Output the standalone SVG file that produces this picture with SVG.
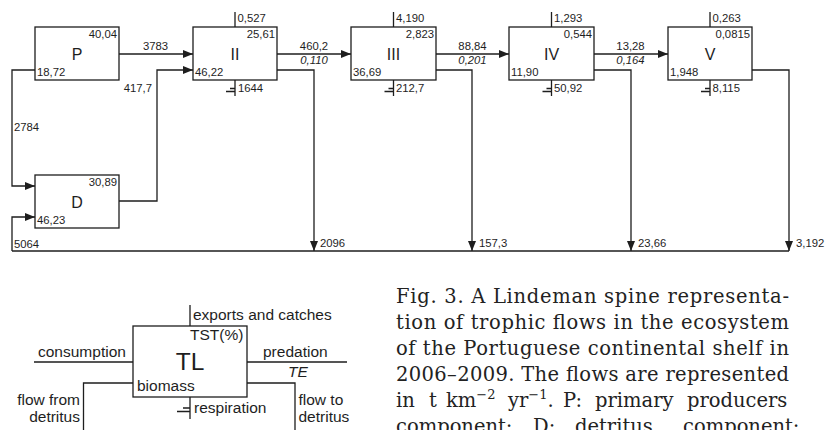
<svg xmlns="http://www.w3.org/2000/svg" width="839" height="430" viewBox="0 0 839 430">
<style>
  .ln{fill:none;stroke:#1e1e1e;stroke-width:1.3}
  .bx{fill:#fff;stroke:#1e1e1e;stroke-width:1.3}
  .n{font-family:"Liberation Sans",Arial,sans-serif;font-size:11.3px;fill:#1e1e1e}
  .it{font-style:italic}
  .c{font-family:"Liberation Sans",Arial,sans-serif;font-size:16px;fill:#1e1e1e;text-anchor:middle}
  .e{text-anchor:end}
  .m{text-anchor:middle}
  .lg{font-family:"Liberation Sans",Arial,sans-serif;font-size:15.5px;fill:#1e1e1e}
  .cap{font-family:"DejaVu Serif","Liberation Serif",serif;font-size:19.5px;fill:#222}
</style>
<defs>
  <marker id="ah" markerUnits="userSpaceOnUse" markerWidth="11" markerHeight="9" refX="10" refY="4" orient="auto">
    <path d="M0,0 L10,4 L0,8 Z" fill="#1e1e1e"/>
  </marker>
</defs>

<g id="connectors">
  <path class="ln" d="M119,54 H193" marker-end="url(#ah)"/>
  <path class="ln" d="M277,54 H351" marker-end="url(#ah)"/>
  <path class="ln" d="M436,54 H509" marker-end="url(#ah)"/>
  <path class="ln" d="M594,54 H668" marker-end="url(#ah)"/>
  <path class="ln" d="M35,70 H12 V186 H35" marker-end="url(#ah)"/>
  <path class="ln" d="M119,201 H157 V70 H193" marker-end="url(#ah)"/>
  <path class="ln" d="M12,251 H789"/>
  <path class="ln" d="M12,251 V217 H35" marker-end="url(#ah)"/>
  <path class="ln" d="M277,70 H314 V251" marker-end="url(#ah)"/>
  <path class="ln" d="M436,70 H472 V251" marker-end="url(#ah)"/>
  <path class="ln" d="M594,70 H631 V251" marker-end="url(#ah)"/>
  <path class="ln" d="M752,70 H789 V251" marker-end="url(#ah)"/>
  <!-- exports -->
  <path class="ln" d="M235,12 V27 M393.5,12 V27 M551.5,12 V27 M710,12 V27"/>
  <!-- respiration -->
  <path class="ln" d="M235,80 V96 M230,88.5 H235 M226,91.5 H235"/>
  <path class="ln" d="M393.5,80 V96 M388.5,88.5 H393.5 M384.5,91.5 H393.5"/>
  <path class="ln" d="M551.5,80 V96 M546.5,88.5 H551.5 M542.5,91.5 H551.5"/>
  <path class="ln" d="M710,80 V96 M705,88.5 H710 M701,91.5 H710"/>
  <text class="n m" x="155.5" y="50">3783</text>
  <text class="n e" x="152" y="92">417,7</text>
  <text class="n" x="14" y="131">2784</text>
  <text class="n" x="14" y="248">5064</text>
  <text class="n m" x="314" y="50">460,2</text>
  <text class="n m it" x="314" y="63.5">0,110</text>
  <text class="n m" x="472.5" y="50">88,84</text>
  <text class="n m it" x="472.5" y="63.5">0,201</text>
  <text class="n m" x="630.5" y="50">13,28</text>
  <text class="n m it" x="630.5" y="63.5">0,164</text>
  <text class="n" x="320" y="247">2096</text>
  <text class="n" x="479" y="247">157,3</text>
  <text class="n" x="638" y="247">23,66</text>
  <text class="n" x="796" y="247">3,192</text>
</g>

<g id="P">
  <rect class="bx" x="35" y="27" width="84" height="53"/>
  <text class="n e" x="117" y="38">40,04</text>
  <text class="c" x="77" y="60">P</text>
  <text class="n" x="37" y="76">18,72</text>
</g>
<g id="D">
  <rect class="bx" x="35" y="175" width="84" height="53"/>
  <text class="n e" x="117" y="186">30,89</text>
  <text class="c" x="77" y="208">D</text>
  <text class="n" x="37" y="224">46,23</text>
</g>
<g id="II">
  <rect class="bx" x="193" y="27" width="84" height="53"/>
  <text class="n" x="237.5" y="22">0,527</text>
  <text class="n e" x="275" y="38">25,61</text>
  <text class="c" x="235" y="60">II</text>
  <text class="n" x="195" y="76">46,22</text>
  <text class="n" x="238" y="92">1644</text>
</g>
<g id="III">
  <rect class="bx" x="351" y="27" width="85" height="53"/>
  <text class="n" x="396" y="22">4,190</text>
  <text class="n e" x="434" y="38">2,823</text>
  <text class="c" x="393.5" y="60">III</text>
  <text class="n" x="353" y="76">36,69</text>
  <text class="n" x="396" y="92">212,7</text>
</g>
<g id="IV">
  <rect class="bx" x="509" y="27" width="85" height="53"/>
  <text class="n" x="554" y="22">1,293</text>
  <text class="n e" x="592" y="38">0,544</text>
  <text class="c" x="551.5" y="60">IV</text>
  <text class="n" x="511" y="76">11,90</text>
  <text class="n" x="554" y="92">50,92</text>
</g>
<g id="V">
  <rect class="bx" x="668" y="27" width="84" height="53"/>
  <text class="n" x="712.5" y="22">0,263</text>
  <text class="n e" x="750" y="38">0,0815</text>
  <text class="c" x="710" y="60">V</text>
  <text class="n" x="670" y="76">1,948</text>
  <text class="n" x="712.5" y="92">8,115</text>
</g>

<g id="legend">
  <path class="ln" d="M190,305 V326 M34,362 H133 M247,362 H347 M133,383 H83.5 V430 M247,383 H295 V430 M190,397 V419 M183,408 H190 M177,411.5 H190"/>
  <rect class="bx" x="133" y="326" width="114" height="71"/>
  <text class="lg" x="193" y="320">exports and catches</text>
  <text class="lg" x="190" y="340">TST(%)</text>
  <text class="lg" x="38" y="356.5">consumption</text>
  <text class="c" x="190" y="370" style="font-size:24.5px">TL</text>
  <text class="lg" x="263" y="356.5">predation</text>
  <text class="lg it" x="288" y="377">TE</text>
  <text class="lg" x="137" y="390.5">biomass</text>
  <text class="lg" x="194" y="413">respiration</text>
  <text class="lg e" x="80" y="405">flow from</text>
  <text class="lg e" x="80" y="421.5">detritus</text>
  <text class="lg" x="298.5" y="405">flow to</text>
  <text class="lg" x="298.5" y="421.5">detritus</text>
</g>

<g id="caption">
  <text class="cap" x="396" y="303" textLength="393" lengthAdjust="spacing">Fig. 3. A Lindeman spine representa-</text>
  <text class="cap" x="396" y="329" textLength="393" lengthAdjust="spacing">tion of trophic flows in the ecosystem</text>
  <text class="cap" x="396" y="355" textLength="393" lengthAdjust="spacing">of the Portuguese continental shelf in</text>
  <text class="cap" x="396" y="381" textLength="393" lengthAdjust="spacing">2006–2009. The flows are represented</text>
  <text class="cap" y="407"><tspan x="396">in</tspan><tspan x="429">t</tspan><tspan x="446">km</tspan><tspan dy="-8" font-size="13">−2</tspan><tspan x="508" dy="8">yr</tspan><tspan dy="-8" font-size="13">−1</tspan><tspan dy="8">.</tspan><tspan x="563">P:</tspan><tspan x="595">primary</tspan><tspan x="687">producers</tspan></text>
  <text class="cap" y="433"><tspan x="396">component;</tspan><tspan x="533">D:</tspan><tspan x="575">detritus</tspan><tspan x="683">component;</tspan></text>
</g>
</svg>
